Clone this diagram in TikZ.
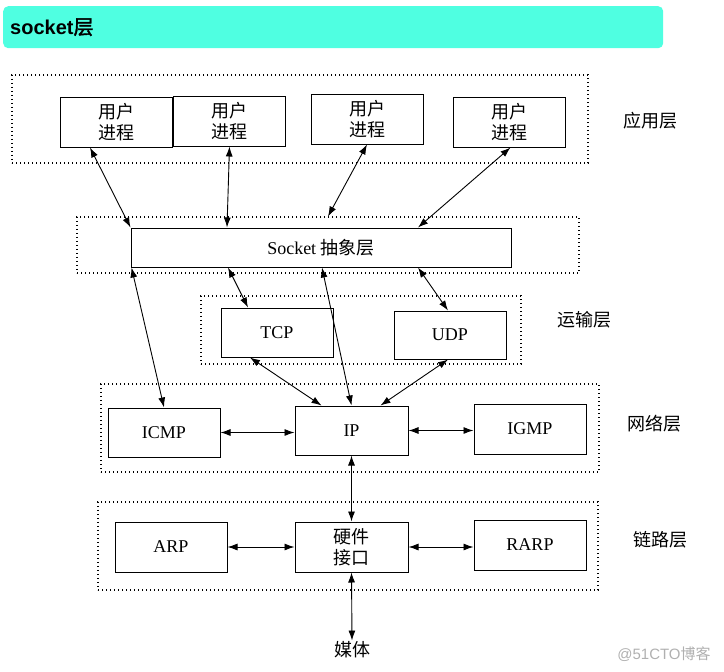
\documentclass[tikz,border=0pt]{standalone}
\usepackage{fontspec}
\usepackage{xcolor}
\usetikzlibrary{arrows.meta}
\setmainfont{Liberation Serif}
\newfontfamily\cjk{Noto Sans CJK SC}
\newfontfamily\cjkbold[FakeBold=2]{Noto Sans CJK SC}
\newfontfamily\headfont{Liberation Sans}
\definecolor{barcyan}{HTML}{4FFFE1}
\definecolor{markgray}{HTML}{B0B0B0}

\tikzset{
  proc/.style={draw, line width=1pt, minimum width=112pt, minimum height=50pt,
    align=center, font=\fontsize{18}{21}\selectfont},
  zone/.style={draw, line width=1.1pt, dash pattern=on 1.3pt off 2.7pt, inner sep=0pt},
  layername/.style={font=\cjk\fontsize{18}{21}\selectfont},
  link/.style={{Latex[length=10pt,width=7pt]}-{Latex[length=10pt,width=7pt]}, line width=0.9pt},
}

\begin{document}
\begin{tikzpicture}[x=1pt, y=-1pt]
  \useasboundingbox (0,0) rectangle (724,672);
  % title bar
  \node[fill=barcyan, rounded corners=5pt, minimum width=660pt, minimum height=42pt,
    anchor=north west, inner sep=0pt] (title) at (3,6) {};
  \node[anchor=west, inner sep=7pt, font=\fontsize{20}{22}\selectfont] (titletext) at (title.west)
    {{\headfont\bfseries socket}{\cjkbold 层}};

  % dotted layer frames
  \node[zone, minimum width=576pt, minimum height=88pt] (appzone) at (300,119) {};
  \node[zone, minimum width=502pt, minimum height=56pt] (sockzone) at (328,245) {};
  \node[zone, minimum width=320pt, minimum height=68pt] (tpzone) at (361,330) {};
  \node[zone, minimum width=498pt, minimum height=88pt] (netzone) at (350,428) {};
  \node[zone, minimum width=500pt, minimum height=88pt] (linkzone) at (348,546) {};

  % boxes
  \node[proc] (u1) at (116,122) {\cjk 用户\\\cjk 进程};
  \node[proc] (u2) at (229.5,121) {\cjk 用户\\\cjk 进程};
  \node[proc] (u3) at (367,119) {\cjk 用户\\\cjk 进程};
  \node[proc] (u4) at (509.5,122) {\cjk 用户\\\cjk 进程};
  \node[proc, minimum width=380pt, minimum height=39pt] (sock) at (321,247.5) {Socket {\cjk 抽象层}};
  \node[proc, minimum height=49pt] (tcp) at (277,332.5) {TCP};
  \node[proc, minimum height=48pt] (udp) at (450,335) {UDP};
  \node[proc, minimum height=49pt] (icmp) at (164,432.5) {ICMP};
  \node[proc, minimum width=113pt, minimum height=49pt] (ip) at (351.5,430.5) {IP};
  \node[proc] (igmp) at (530,429) {IGMP};
  \node[proc] (arp) at (171,547) {ARP};
  \node[proc, minimum width=113pt] (hw) at (351.5,547) {\cjk 硬件\\\cjk 接口};
  \node[proc] (rarp) at (530,545) {RARP};
  \node[layername, inner sep=1pt] (media) at (352,650) {媒体};

  % layer names
  \node[layername] (lapp) at (650,121) {应用层};
  \node[layername] (ltp) at (584,320) {运输层};
  \node[layername] (lnet) at (654,424) {网络层};
  \node[layername] (llink) at (660,540) {链路层};
  \node[text=markgray, font=\headfont\fontsize{15}{17}\selectfont] (mark) at (664,654)
    {@51CTO{\cjk 博客}};

  % connections
  \draw[link] ([xshift=-26pt]u1.south) -- (sock.north west);
  \draw[link] (u2.south) -- ([xshift=-94pt]sock.north);
  \draw[link] (u3.south) -- (sockzone.north);
  \draw[link] ([xshift=1pt]u4.south) -- ([xshift=97pt]sock.north);
  \draw[link] ([xshift=1pt]sock.south west) -- (icmp.north);
  \draw[link] ([xshift=-93pt]sock.south) -- ([xshift=-29pt]tcp.north);
  \draw[link] ([xshift=1pt]sock.south) -- (ip.north);
  \draw[link] ([xshift=97pt]sock.south) -- ([xshift=-2pt]udp.north);
  \draw[link] ([xshift=-27pt]tcp.south) -- ([xshift=-30pt]ip.north);
  \draw[link] ([xshift=-2pt]udp.south) -- ([xshift=29pt]ip.north);
  \draw[link] (icmp.east) -- (icmp.east -| ip.west);
  \draw[link] (ip.east) -- (ip.east -| igmp.west);
  \draw[link] (ip.south) -- (hw.north);
  \draw[link] (arp.east) -- (hw.west);
  \draw[link] (hw.east) -- (hw.east -| rarp.west);
  \draw[link] (hw.south) -- (media.north);
\end{tikzpicture}
\end{document}
